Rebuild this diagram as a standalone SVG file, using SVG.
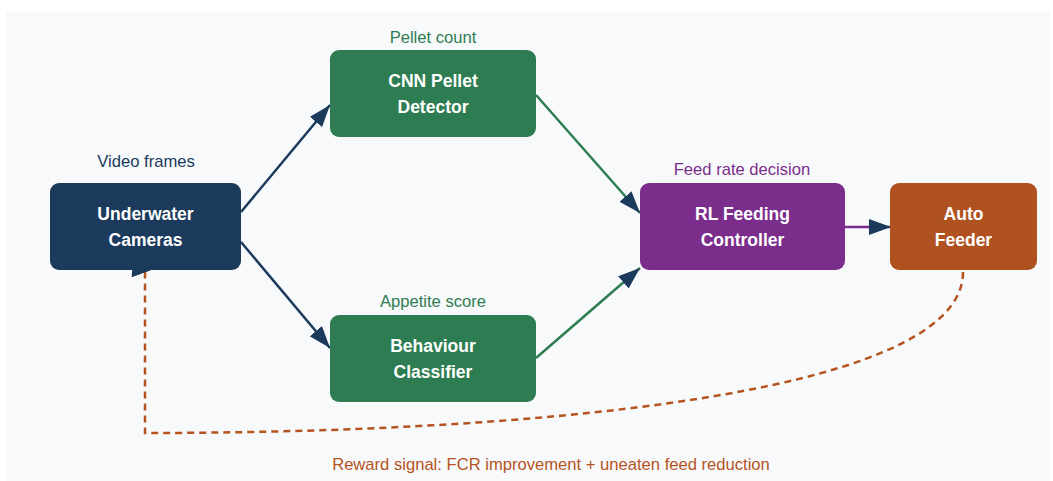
<svg xmlns="http://www.w3.org/2000/svg" width="1053" height="481" viewBox="0 0 1053 481">
<defs>
<style>
.node-label{font-family:"Liberation Sans",Arial,sans-serif;font-size:17.5px;font-weight:bold;fill:#ffffff;text-anchor:middle}
.edge-label{font-family:"Liberation Sans",Arial,sans-serif;font-size:16.6px;text-anchor:middle}
.edge{fill:none;stroke-width:2.5}
</style>
<marker id="arr" markerUnits="userSpaceOnUse" markerWidth="24" markerHeight="18" refX="22" refY="8" orient="auto">
<path d="M0,0 L22,8 L0,16 z" fill="#1b3a5c"/>
</marker>
<marker id="arr-fb" markerUnits="userSpaceOnUse" markerWidth="24" markerHeight="22" refX="22" refY="10" orient="-110">
<path d="M0,0 L22,10 L0,20 z" fill="#1b3a5c"/>
</marker>
</defs>
<rect x="0" y="0" width="1053" height="481" fill="#ffffff"/>
<rect x="6" y="11" width="1044" height="470" fill="#f8f9fb"/>
<g id="connectors">
<path class="edge" d="M241,212 L330,105" stroke="#1b3a5c" marker-end="url(#arr)"/>
<path class="edge" d="M241,242 L330,348" stroke="#1b3a5c" marker-end="url(#arr)"/>
<path class="edge" d="M536,95 L640,213" stroke="#2e7d52" marker-end="url(#arr)"/>
<path class="edge" d="M536,358 L640,268" stroke="#2e7d52" marker-end="url(#arr)"/>
<path class="edge" d="M845,227 L891,227" stroke="#7b2d8b" marker-end="url(#arr)"/>
<path class="edge" d="M963,272 C963,400 500,433 145,433 L145,266 L133.5,253.3" stroke="#b5541f" stroke-dasharray="7,5" marker-end="url(#arr-fb)"/>
<text class="edge-label" x="146" y="167" fill="#1b3a5c">Video frames</text>
<text class="edge-label" x="433" y="43" fill="#2e7d52">Pellet count</text>
<text class="edge-label" x="433" y="307" fill="#2e7d52">Appetite score</text>
<text class="edge-label" x="742" y="175" fill="#7b2d8b">Feed rate decision</text>
<text class="edge-label" x="551" y="470" fill="#b5541f">Reward signal: FCR improvement + uneaten feed reduction</text>
</g>
<g id="cameras">
<rect x="50" y="183" width="191" height="87" rx="9" fill="#1b3a5c"/>
<text class="node-label" x="145.5" y="220">Underwater</text>
<text class="node-label" x="145.5" y="246">Cameras</text>
</g>
<g id="cnn">
<rect x="330" y="50" width="206" height="87" rx="9" fill="#2e7d52"/>
<text class="node-label" x="433" y="87">CNN Pellet</text>
<text class="node-label" x="433" y="113">Detector</text>
</g>
<g id="behaviour">
<rect x="330" y="315" width="206" height="87" rx="9" fill="#2e7d52"/>
<text class="node-label" x="433" y="352">Behaviour</text>
<text class="node-label" x="433" y="378">Classifier</text>
</g>
<g id="rl">
<rect x="640" y="183" width="205" height="87" rx="9" fill="#7b2d8b"/>
<text class="node-label" x="742.5" y="220">RL Feeding</text>
<text class="node-label" x="742.5" y="246">Controller</text>
</g>
<g id="feeder">
<rect x="890" y="183" width="147" height="87" rx="9" fill="#b05220"/>
<text class="node-label" x="963.5" y="220">Auto</text>
<text class="node-label" x="963.5" y="246">Feeder</text>
</g>
</svg>
